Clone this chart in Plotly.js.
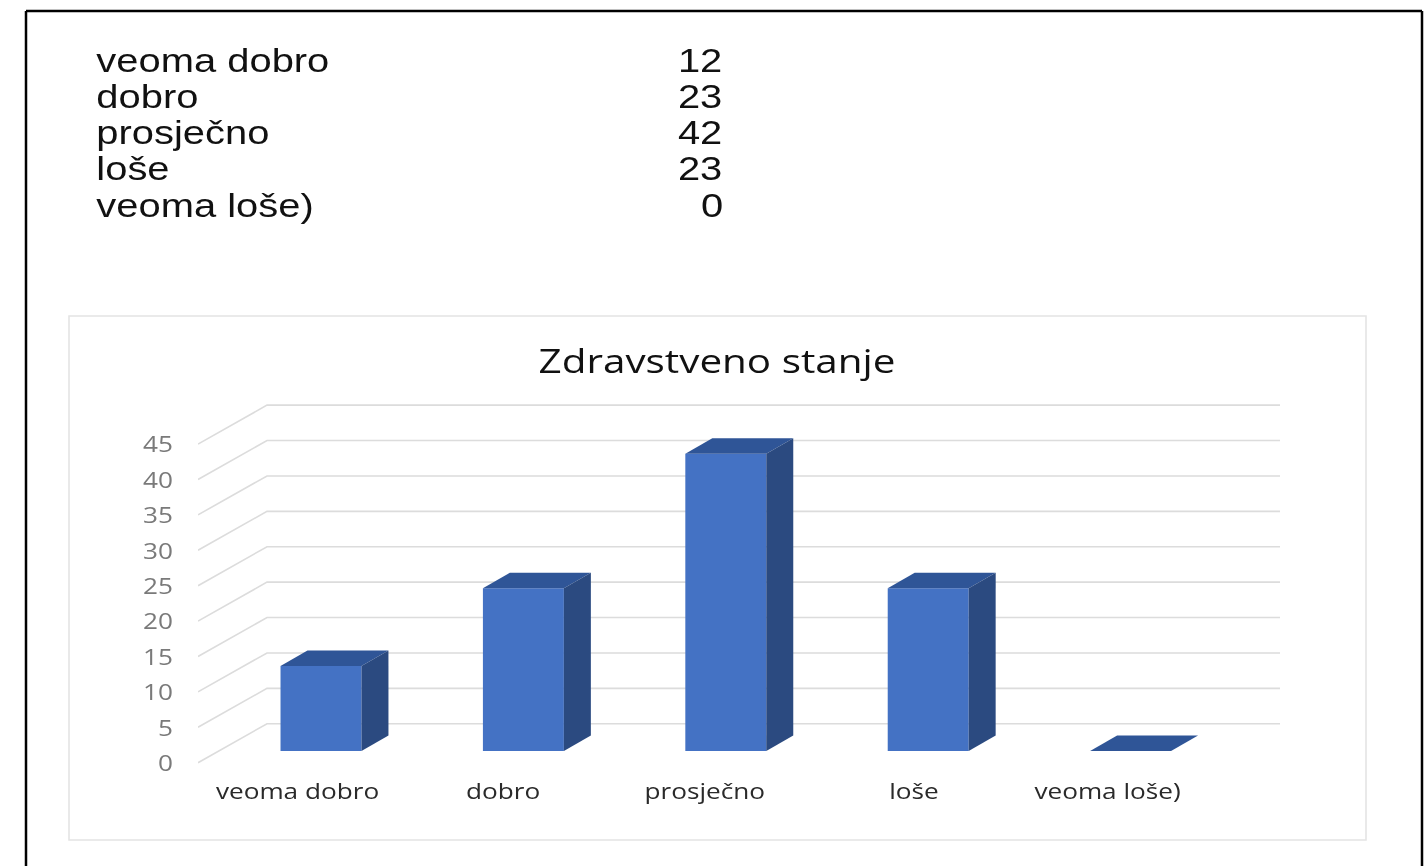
<!DOCTYPE html>
<html>
<head>
<meta charset="utf-8">
<script src="https://cdn.plot.ly/plotly-3.0.1.min.js"></script>
<style>
html,body{margin:0;padding:0;background:#fff;overflow:hidden}
#chart{width:1424px;height:866px;filter:blur(0.4px)}
.xtick{transform-box:fill-box;transform-origin:center;transform:scaleX(1.19)}
.ytick{transform-box:fill-box;transform-origin:right center;transform:scaleX(1.19)}
.annotation{transform-box:fill-box;transform:scaleX(1.21)}
.g-gtitle{transform-box:fill-box;transform-origin:center;transform:scaleX(1.225)}
</style>
</head>
<body>
<div id="chart"></div>
<script>
const categories = ['veoma dobro','dobro','prosječno','loše','veoma loše)'];
const values = [12,23,42,23,0];
const yTicks = [0,5,10,15,20,25,30,35,40,45];
const chartTitle = 'Zdravstveno stanje';
const labelOffsets = [-0.116,-0.10,-0.104,-0.07,-0.114];

const W=1424,H=866, L=198,R=1280,T=395,B=776;
const pxX = p => (p-321)/202.4;
const pxY = p => (751-p)/7.08;
const paperX = p => (p-L)/(R-L);
const paperY = p => (B-p)/(B-T);

const barW=0.4, depthX=0.1333, depthY=2.19;
const frontShift=-1.65, tickShift=-1.75, wallShift=3.85, wallX=pxX(267);

const blue='#4472c4', topBlue='#2f5597', sideBlue='#2b4a80', grid='#dcdcdc';

const traces=[{type:'bar',x:categories.map((c,i)=>i),y:values,width:barW,
  marker:{color:blue,line:{width:0}},hoverinfo:'skip'}];

values.forEach((v,i)=>{
  const a=i-barW/2,b=i+barW/2;
  traces.push({type:'scatter',mode:'lines',fill:'toself',fillcolor:topBlue,line:{width:0,color:topBlue},hoverinfo:'skip',
    x:[a,b,b+depthX,a+depthX,a],y:[v,v,v+depthY,v+depthY,v]});
  if(v>0) traces.push({type:'scatter',mode:'lines',fill:'toself',fillcolor:sideBlue,line:{width:0,color:sideBlue},hoverinfo:'skip',
    x:[b,b+depthX,b+depthX,b,b],y:[0,depthY,v+depthY,v,0]});
});

const shapes=[];
yTicks.forEach(t=>{
  shapes.push({type:'path',xref:'x',yref:'y',layer:'below',line:{color:grid,width:1.6},
    path:`M${pxX(L)},${t+frontShift} L${wallX},${t+wallShift} L${pxX(R)},${t+wallShift}`});
});
shapes.push({type:'rect',xref:'paper',yref:'paper',layer:'below',line:{color:'#e4e4e4',width:1.6},
  x0:paperX(69),x1:paperX(1366),y0:paperY(840),y1:paperY(316)});
[[26,11,26,866],[26,11,1422,11],[1422,11,1422,866]].forEach(s=>{
  shapes.push({type:'line',xref:'paper',yref:'paper',layer:'below',line:{color:'#000',width:2.5},
    x0:paperX(s[0]),y0:paperY(s[1]),x1:paperX(s[2]),y1:paperY(s[3])});
});

const rowY=[60,96.4,132,168,205.4];
const annotations=[];
categories.forEach((c,i)=>{
  annotations.push({text:c,xref:'paper',yref:'paper',x:paperX(94),y:paperY(rowY[i]),xanchor:'left',yanchor:'middle',showarrow:false,
    font:{family:'Liberation Sans',size:33,color:'#111'}});
  annotations.push({text:String(values[i]),xref:'paper',yref:'paper',x:paperX(725),y:paperY(rowY[i]),xanchor:'right',yanchor:'middle',showarrow:false,
    font:{family:'Liberation Sans',size:33,color:'#111'}});
});

const layout={
  width:W,height:H,showlegend:false,
  paper_bgcolor:'#fff',plot_bgcolor:'rgba(0,0,0,0)',
  margin:{l:L,r:W-R,t:T,b:H-B,pad:0},
  title:{text:chartTitle,font:{family:'Open Sans',size:33,color:'#111'},x:717/W,xanchor:'center',y:1-361/H,yanchor:'middle'},
  xaxis:{range:[pxX(L),pxX(R)],tickmode:'array',tickvals:categories.map((c,i)=>i+labelOffsets[i]),ticktext:categories,
    showgrid:false,zeroline:false,showline:false,ticklen:0,
    tickfont:{family:'Open Sans',size:22,color:'#2a2a2a'}},
  yaxis:{range:[pxY(B),pxY(T)],tickmode:'array',tickvals:yTicks.map(t=>t+tickShift),ticktext:yTicks.map(String),
    showgrid:false,zeroline:false,showline:false,ticklen:0,ticklabelstandoff:24,
    tickfont:{family:'Open Sans',size:22,color:'#7a7a7a'}},
  shapes,annotations
};
Plotly.newPlot('chart',traces,layout,{displayModeBar:false,staticPlot:true}).then(()=>{
  document.querySelectorAll('g.annotation').forEach((g,i)=>{
    g.style.transformOrigin = annotations[i].xanchor==='left' ? 'left center' : 'right center';
  });
});
</script>
</body>
</html>
